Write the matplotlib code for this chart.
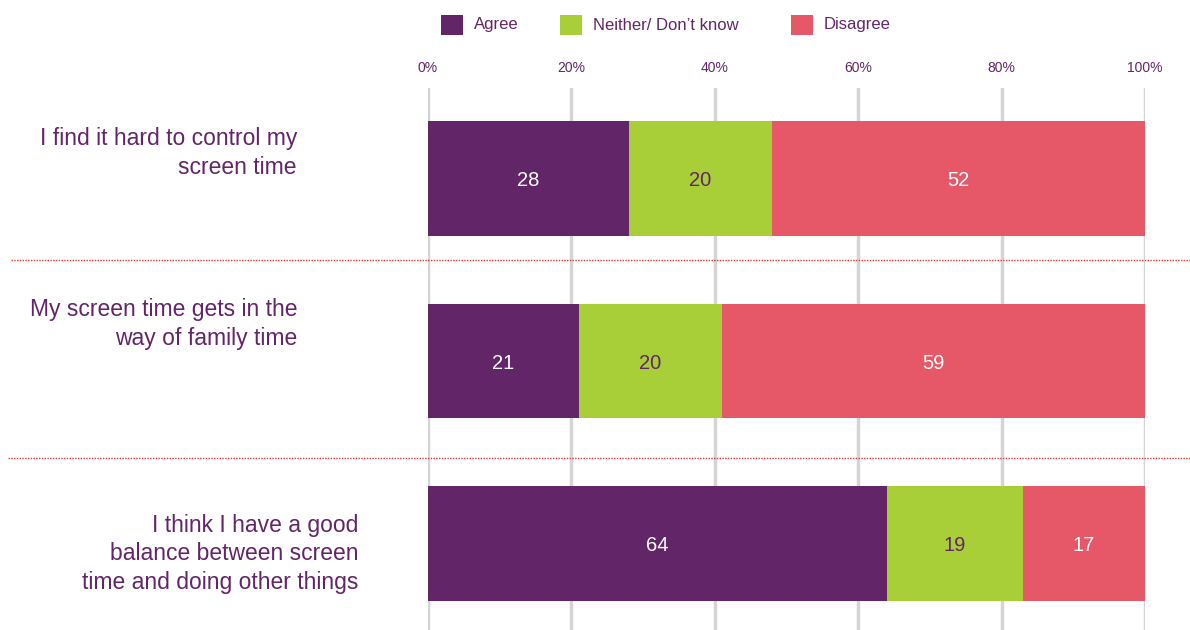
import matplotlib.pyplot as plt
from matplotlib.patches import Rectangle
from matplotlib.lines import Line2D

plt.rcParams['font.family'] = ['Liberation Sans', 'DejaVu Sans']

PURPLE = '#622567'
GREEN = '#a8cf38'
RED = '#e65868'
GRID = '#d4d4d4'
TEXT = '#622567'

statements = [
    "I find it hard to control my\nscreen time",
    "My screen time gets in the\nway of family time",
    "I think I have a good\nbalance between screen\ntime and doing other things",
]
series_names = ["Agree", "Neither/ Don\u2019t know", "Disagree"]
agree = [28, 21, 64]
neither = [20, 20, 19]
disagree = [52, 59, 17]
xticks = [0, 20, 40, 60, 80, 100]

fig = plt.figure(figsize=(11.9, 6.3), dpi=100)
fig.patch.set_facecolor('white')
ax = fig.add_axes([428 / 1190, 0, (1145 - 428) / 1190, 1 - 88 / 630])

ypos = list(range(len(statements)))
colors = [PURPLE, GREEN, RED]
label_colors = ['white', PURPLE, 'white']
left = [0] * len(statements)
for vals, col, lcol in zip([agree, neither, disagree], colors, label_colors):
    bars = ax.barh(ypos, vals, left=left, height=0.63, color=col, zorder=3)
    for b, v in zip(bars, vals):
        ax.text(b.get_x() + b.get_width() / 2, b.get_y() + b.get_height() / 2 + 0.012,
                str(v), ha='center', va='center', fontsize=14.5, color=lcol, zorder=4)
    left = [l + v for l, v in zip(left, vals)]

ax.set_xlim(0, 100)
ax.set_ylim(2.474, -0.496)
ax.set_xticks(xticks)
ax.set_xticklabels([f"{t}%" for t in xticks])
ax.xaxis.tick_top()
ax.tick_params(axis='x', length=0, pad=9, labelsize=10, labelcolor=TEXT)
ax.set_yticks([])
ax.grid(axis='x', color=GRID, linewidth=2.5, zorder=0)
for s in ax.spines.values():
    s.set_visible(False)

# statement labels (placed by hand, right aligned)
label_pos = [(297, 153), (297, 324), (358, 554)]
for txt, (px, py) in zip(statements, label_pos):
    fig.text(px / 1190, 1 - py / 630, txt, ha='right', va='center',
             fontsize=16.5, color=TEXT, linespacing=1.3)

# red dotted separators
for py, x0 in [(260, 11), (458, 8)]:
    fig.add_artist(Line2D([x0 / 1190, 1], [1 - py / 630] * 2,
                          transform=fig.transFigure, color='#e03a3a',
                          linestyle=(0, (1, 1)), linewidth=1, zorder=5))

# legend
leg_x = [441, 560, 791]
for name, col, lx in zip(series_names, colors, leg_x):
    fig.add_artist(Rectangle((lx / 1190, 1 - 35 / 630), 22 / 1190, 20 / 630,
                             transform=fig.transFigure, facecolor=col, edgecolor='none'))
    fig.text((lx + 33) / 1190, 1 - 25 / 630, name, ha='left', va='center',
             fontsize=12, color=TEXT)

fig.savefig('out.png', dpi=100, facecolor='white')
